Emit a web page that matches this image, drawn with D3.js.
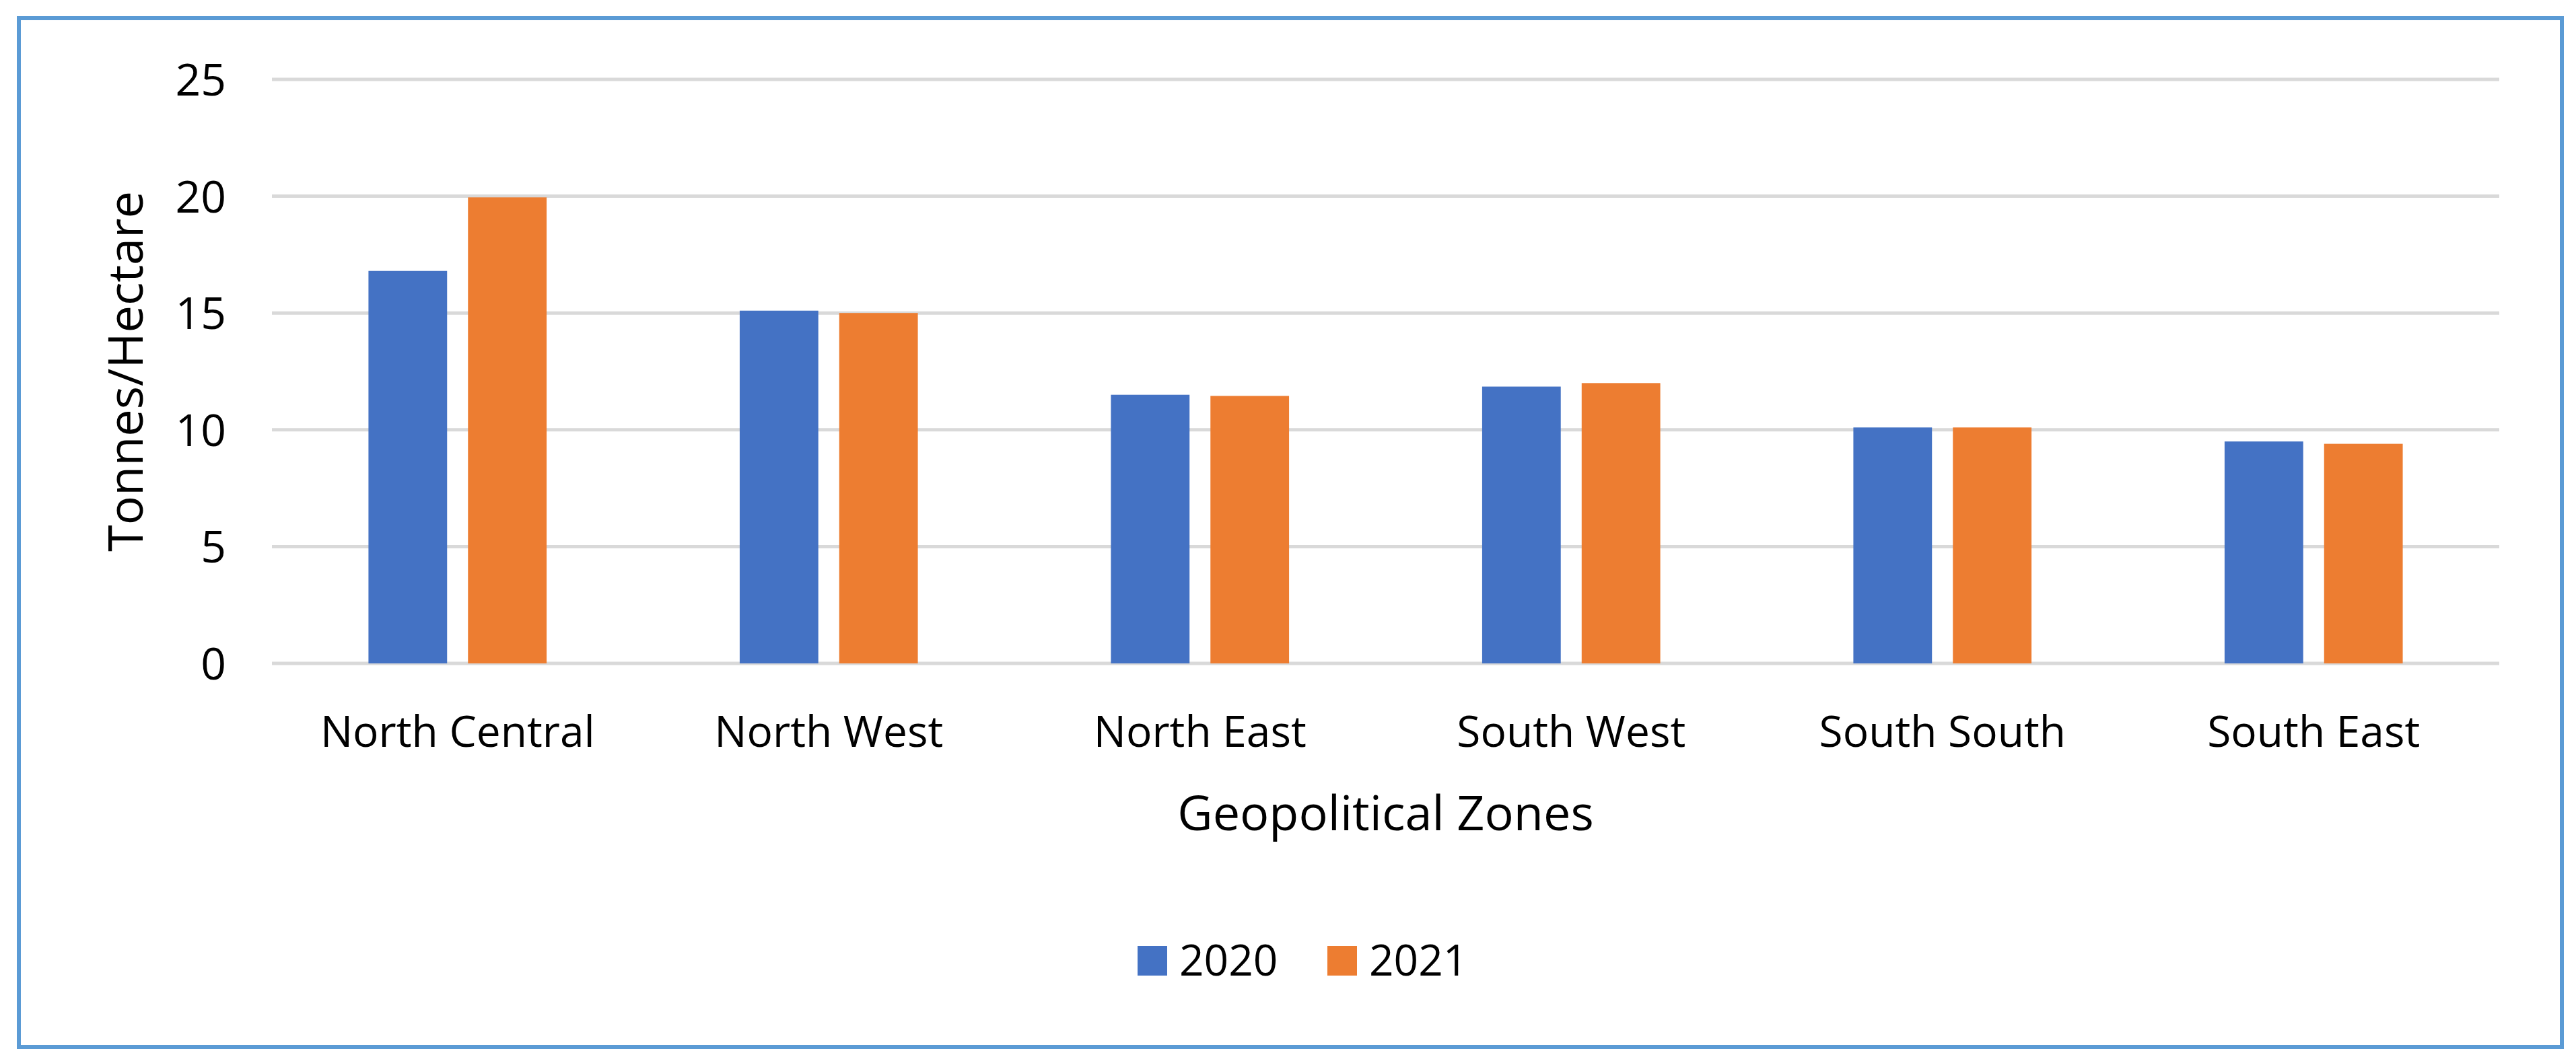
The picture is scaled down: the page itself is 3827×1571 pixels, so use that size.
<!DOCTYPE html>
<html><head><meta charset="utf-8">
<script src="https://cdn.jsdelivr.net/npm/d3@7"></script>
<style>body{margin:0;background:#fff}text{font-family:"Open Sans",sans-serif;fill:#000}</style>
</head><body>
<svg id="c" width="3827" height="1571"></svg>
<script>
var zones = ['North Central', 'North West', 'North East', 'South West', 'South South', 'South East'];
var years = ['2020', '2021'];
var values2020 = [16.8, 15.1, 11.5, 11.85, 10.1, 9.5];
var values2021 = [19.95, 15.0, 11.45, 12.0, 10.1, 9.4];
var colors = ['#4472C4', '#ED7D31'];
var yTicks = [0, 5, 10, 15, 20, 25];

var svg = d3.select('#c');
svg.append('rect').attr('x', 28).attr('y', 27).attr('width', 3778).attr('height', 1529)
  .attr('fill', '#fff').attr('stroke', '#5B9BD5').attr('stroke-width', 6);

var x = d3.scaleBand().domain(zones).range([404, 3713]);
var y = d3.scaleLinear().domain([0, 25]).range([986, 118]);
var sub = d3.scaleBand().domain(years).range([0, x.bandwidth()]).paddingInner(0.21).paddingOuter(0.97);

svg.append('g').selectAll('line').data(yTicks).enter().append('line')
  .attr('x1', 404).attr('x2', 3713)
  .attr('y1', function (d) { return y(d); }).attr('y2', function (d) { return y(d); })
  .attr('stroke', '#d9d9d9').attr('stroke-width', 5);

svg.append('g').selectAll('text').data(yTicks).enter().append('text')
  .attr('x', 336).attr('y', function (d) { return y(d) + 24; })
  .attr('text-anchor', 'end').attr('font-size', 66).text(function (d) { return d; });

var series = [values2020, values2021];
series.forEach(function (vals, s) {
  svg.append('g').selectAll('rect').data(vals).enter().append('rect')
    .attr('x', function (d, i) { return x(zones[i]) + sub(years[s]); })
    .attr('width', sub.bandwidth())
    .attr('y', function (d) { return y(d); })
    .attr('height', function (d) { return y(0) - y(d); })
    .attr('fill', colors[s]);
});

svg.append('g').selectAll('text').data(zones).enter().append('text')
  .attr('x', function (d) { return x(d) + x.bandwidth() / 2; }).attr('y', 1110)
  .attr('text-anchor', 'middle').attr('font-size', 64).text(function (d) { return d; });

svg.append('text').attr('x', (404 + 3713) / 2).attr('y', 1234).attr('text-anchor', 'middle')
  .attr('font-size', 72).text('Geopolitical Zones');
svg.append('text').attr('transform', 'translate(212,' + ((118 + 986) / 2) + ') rotate(-90)')
  .attr('text-anchor', 'middle').attr('font-size', 72).text('Tonnes/Hectare');

var leg = svg.append('g').attr('transform', 'translate(1690,1406)');
years.forEach(function (yr, i) {
  var g = leg.append('g').attr('transform', 'translate(' + (i * 282) + ',0)');
  g.append('rect').attr('width', 44).attr('height', 44).attr('fill', colors[i]);
  g.append('text').attr('x', 62).attr('y', 44).attr('font-size', 64).text(yr);
});
</script>
</body></html>
